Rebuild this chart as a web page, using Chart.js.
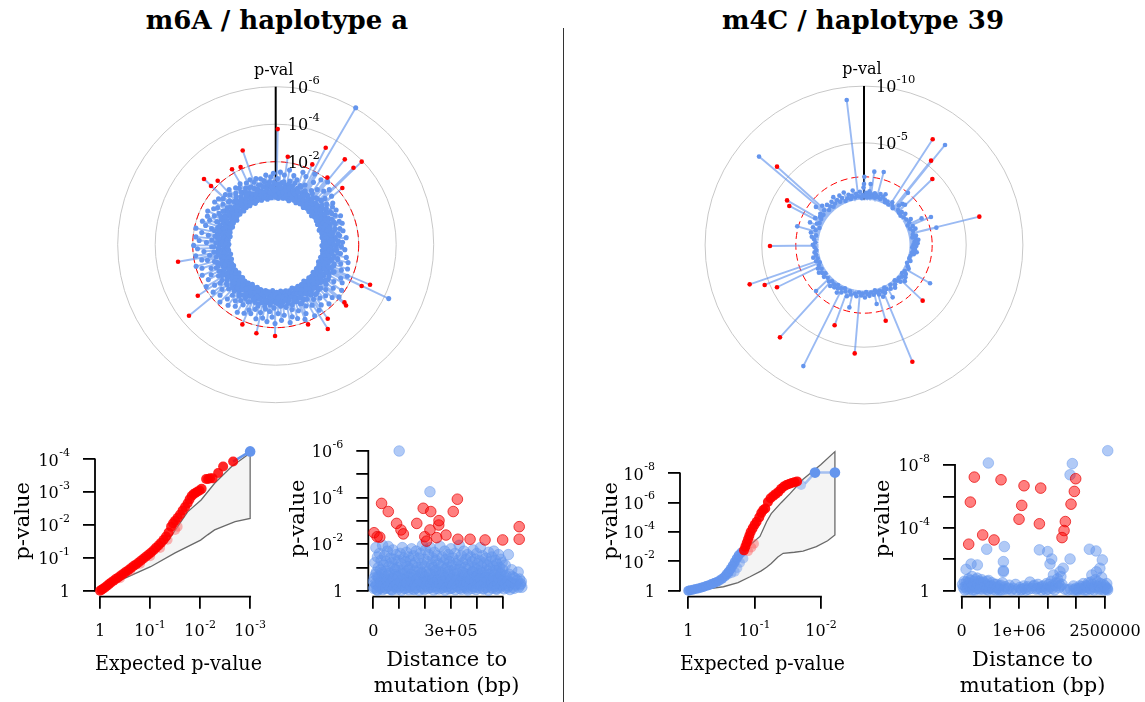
<!DOCTYPE html>
<html><head><meta charset="utf-8">
<script src="https://cdn.jsdelivr.net/npm/chart.js@4.4.0/dist/chart.umd.min.js"></script>
<style>
html,body{margin:0;padding:0;background:#fff;}
body{width:1145px;height:702px;position:relative;overflow:hidden;font-family:"DejaVu Serif",serif;}
.title{position:absolute;top:5px;line-height:30px;font-weight:bold;font-size:26px;text-align:center;width:400px;color:#000;}
canvas{position:absolute;}
#divider{position:absolute;left:563px;top:28px;width:1px;height:674px;background:#333;}
</style></head><body>
<div class="title" style="left:77px">m6A / haplotype a</div>
<div class="title" style="left:663px">m4C / haplotype 39</div>
<div id="divider"></div>
<canvas id="polarL" width="372" height="385" style="left:90px;top:50px"></canvas>
<canvas id="polarR" width="372" height="385" style="left:678px;top:50px"></canvas>
<canvas id="qqL" width="285" height="272" style="left:0px;top:430px"></canvas>
<canvas id="distL" width="278" height="272" style="left:285px;top:430px"></canvas>
<canvas id="qqR" width="280" height="272" style="left:590px;top:430px"></canvas>
<canvas id="distR" width="275" height="272" style="left:870px;top:430px"></canvas>
<script>
// ================= DATA (p-values stored as -log10(p)) =================
// Left panel: m6A / haplotype a — polar plot [angle in degrees, -log10 p]
const leftPolarRed = [[1.0,3.74],[340.7,2.90],[7.8,2.31],[27.3,3.39],[24.5,2.28],[39.0,3.43],[46.0,3.95],[45.3,3.41],[37.6,2.09],[49.6,2.24],[329.9,2.22],[335.7,2.12],[312.5,2.76],[312.2,2.23],[317.8,2.18],[260.1,2.86],[236.8,2.54],[230.7,3.55],[202.7,2.18],[192.3,2.41],[180.4,2.44],[157.9,2.16],[148.3,2.86],[144.9,2.40],[130.0,2.36],[130.8,2.53],[115.7,2.66],[113.0,3.04]];
const leftPolarBlue = [[30.3,6.03],[115.5,4.25],
[0.4,0.35],[1.6,1.10],[2.9,0.62],[3.7,1.45],[4.8,0.28],[5.9,0.91],[7.1,1.32],[8.0,0.47],[9.2,0.78],[10.5,1.62],[11.3,0.22],[12.6,1.05],[13.8,0.56],[14.7,1.38],[16.0,0.84],[17.2,0.31],[18.1,1.21],[19.5,0.67],[20.6,1.70],[21.4,0.43],[22.8,0.99],[23.9,1.55],[25.1,0.36],[26.2,1.12],[27.8,0.74],[28.9,1.88],[29.7,0.52],[31.2,1.46],[32.4,0.27],[33.5,1.03],[34.9,1.79],[35.8,0.61],[37.0,1.26],[38.3,0.40],[39.6,1.92],[40.7,0.88],[41.9,1.41],[43.1,0.33],[44.2,1.67],[45.6,0.95],[46.8,1.18],[47.7,0.49],[49.0,1.52],[50.3,0.72],[51.5,1.05],[52.6,0.30],[53.9,1.34],[55.2,0.81],[56.4,1.21],[57.3,0.44],[58.8,0.98],[60.1,1.29],[61.2,0.58],[62.5,0.25],[63.7,1.12],[64.9,0.69],[66.0,1.36],[67.4,0.38],[68.5,0.90],[69.8,1.18],[71.0,0.52],[72.1,1.30],[73.5,0.29],[74.6,0.85],[75.8,1.10],[77.0,0.46],[78.3,1.24],[79.4,0.62],[80.6,0.34],[81.9,1.02],[83.2,0.77],[84.3,1.35],[85.6,0.41],[86.8,0.93],[88.0,1.14],[89.1,0.26],[90.5,0.70],[91.7,1.08],[92.8,0.48],[94.1,1.27],[95.3,0.83],[96.6,0.31],[97.7,1.06],[99.0,0.59],[100.2,1.40],[101.3,0.37],[102.7,0.96],[103.9,1.55],[105.0,0.66],[106.4,1.19],[107.6,0.28],[108.7,1.62],[110.0,0.87],[111.2,1.33],[112.3,0.50],[113.8,1.75],[114.9,1.01],[116.2,0.42],[117.3,1.48],[118.5,0.79],[119.8,1.66],[121.0,0.35],[122.3,1.24],[123.4,0.93],[124.7,1.85],[125.9,0.55],[127.1,1.42],[128.2,0.74],[129.5,1.95],[130.6,0.30],[131.9,1.16],[133.1,1.70],[134.3,0.63],[135.6,1.38],[136.7,0.89],[138.0,1.82],[139.2,0.45],[140.4,1.27],[141.5,0.97],[142.9,1.60],[144.0,0.38],[145.3,1.12],[146.5,1.77],[147.6,0.71],[148.9,1.34],[150.1,0.54],[151.3,1.90],[152.6,0.86],[153.7,1.22],[155.0,0.33],[156.2,1.58],[157.3,0.99],[158.6,1.85],[159.8,0.47],[161.0,1.30],[162.2,0.77],[163.5,1.68],[164.6,0.29],[165.9,1.14],[167.1,1.52],[168.2,0.64],[169.5,1.80],[170.7,0.92],[171.9,0.40],[173.1,1.36],[174.3,0.81],[175.6,1.62],[176.8,0.53],[178.0,1.25],[179.2,0.36],[180.5,1.78],[181.6,0.95],[182.9,1.44],[184.1,0.58],[185.2,1.15],[186.5,1.70],[187.7,0.32],[189.0,1.05],[190.1,1.55],[191.4,0.69],[192.6,1.28],[193.8,0.44],[195.0,1.66],[196.3,0.87],[197.5,1.19],[198.6,0.27],[199.9,1.48],[201.1,0.75],[202.3,1.34],[203.6,0.51],[204.8,1.60],[205.9,0.96],[207.2,0.39],[208.4,1.22],[209.6,1.72],[210.9,0.62],[212.0,1.09],[213.3,1.50],[214.5,0.34],[215.7,1.26],[216.9,0.83],[218.2,1.68],[219.4,0.46],[220.6,1.12],[221.7,1.45],[223.0,0.70],[224.2,1.84],[225.5,0.31],[226.7,1.02],[227.8,1.58],[229.1,0.57],[230.3,1.30],[231.6,0.92],[232.8,1.76],[234.0,0.41],[235.2,1.18],[236.5,1.48],[237.6,0.66],[238.9,1.90],[240.1,0.29],[241.3,1.05],[242.6,1.62],[243.7,0.79],[245.0,1.37],[246.2,0.50],[247.4,1.82],[248.7,0.97],[249.9,1.24],[251.0,0.35],[252.3,1.70],[253.5,0.86],[254.8,1.97],[256.0,0.53],[257.1,1.31],[258.4,1.60],[259.6,0.43],[260.9,1.14],[262.1,1.88],[263.3,0.68],[264.6,1.42],[265.7,0.26],[267.0,1.75],[268.2,0.99],[269.5,1.95],[270.7,0.48],[271.8,1.27],[273.1,1.66],[274.3,0.61],[275.6,1.85],[276.7,0.37],[278.0,1.20],[279.3,1.57],[280.4,0.74],[281.7,1.92],[282.9,0.44],[284.1,1.10],[285.4,1.45],[286.6,0.56],[287.8,1.68],[289.0,0.30],[290.3,1.33],[291.5,0.89],[292.7,1.52],[294.0,0.41],[295.2,1.19],[296.4,1.62],[297.7,0.65],[298.9,1.03],[300.1,1.40],[301.3,0.33],[302.6,1.25],[303.8,0.80],[305.0,1.55],[306.3,0.47],[307.5,1.12],[308.7,1.48],[310.0,0.58],[311.2,1.30],[312.4,0.27],[313.7,0.97],[314.9,1.36],[316.1,0.52],[317.4,1.18],[318.6,0.75],[319.8,1.42],[321.0,0.34],[322.3,1.06],[323.5,0.64],[324.8,1.28],[326.0,0.45],[327.2,1.15],[328.4,0.82],[329.7,1.34],[330.9,0.29],[332.1,1.00],[333.4,0.57],[334.6,1.22],[335.8,0.40],[337.1,0.93],[338.3,1.30],[339.6,0.50],[340.8,1.10],[342.0,0.68],[343.3,1.25],[344.5,0.32],[345.7,0.87],[347.0,1.18],[348.2,0.46],[349.5,1.05],[350.7,0.71],[351.9,1.32],[353.2,0.38],[354.4,0.96],[355.7,1.20],[356.9,0.55],[358.1,1.38],[359.3,0.80]];
const leftPolarBlueLow = [[0.6,0.12],[1.9,0.45],[3.1,0.05],[4.2,0.33],[5.4,0.60],[6.6,0.18],[7.7,0.40],[8.9,0.08],[10.1,0.52],[11.9,0.25],[13.1,0.68],[14.2,0.10],[15.5,0.38],[16.6,0.02],[17.8,0.55],[19.0,0.22],[20.1,0.47],[21.9,0.14],[23.2,0.63],[24.3,0.30],[25.6,0.06],[26.9,0.42],[28.1,0.20],[29.3,0.58],[30.6,0.11],[31.8,0.36],[33.0,0.70],[34.1,0.16],[35.3,0.48],[36.6,0.04],[37.7,0.29],[39.0,0.61],[40.2,0.13],[41.3,0.44],[42.6,0.24],[43.8,0.66],[45.0,0.07],[46.2,0.35],[47.3,0.53],[48.5,0.19],[49.8,0.41],[51.0,0.03],[52.1,0.57],[53.3,0.27],[54.6,0.12],[55.8,0.49],[56.9,0.21],[58.1,0.64],[59.4,0.09],[60.6,0.37],[61.8,0.17],[63.0,0.51],[64.2,0.05],[65.5,0.32],[66.7,0.59],[67.9,0.15],[69.1,0.43],[70.3,0.26],[71.5,0.02],[72.8,0.55],[74.0,0.20],[75.2,0.38],[76.4,0.10],[77.6,0.62],[78.9,0.28],[80.1,0.45],[81.3,0.07],[82.5,0.34],[83.8,0.18],[85.0,0.56],[86.2,0.12],[87.4,0.40],[88.6,0.23],[89.8,0.67],[91.1,0.04],[92.3,0.31],[93.5,0.50],[94.7,0.16],[95.9,0.42],[97.2,0.08],[98.4,0.60],[99.6,0.25],[100.8,0.13],[102.0,0.47],[103.3,0.21],[104.5,0.69],[105.7,0.06],[106.9,0.36],[108.1,0.53],[109.4,0.14],[110.6,0.39],[111.8,0.03],[113.0,0.58],[114.2,0.27],[115.1,0.11],[116.7,0.46],[117.9,0.19],[119.1,0.63],[120.3,0.09],[121.6,0.33],[122.8,0.52],[124.0,0.17],[125.2,0.44],[126.4,0.05],[127.7,0.61],[128.9,0.24],[130.1,0.40],[131.3,0.12],[132.5,0.57],[133.8,0.30],[135.0,0.07],[136.2,0.49],[137.4,0.20],[138.6,0.66],[139.8,0.15],[141.1,0.37],[142.3,0.02],[143.5,0.54],[144.7,0.26],[145.9,0.43],[147.2,0.10],[148.4,0.60],[149.6,0.22],[150.8,0.35],[152.0,0.08],[153.3,0.50],[154.5,0.18],[155.7,0.68],[156.9,0.13],[158.1,0.41],[159.4,0.04],[160.6,0.56],[161.8,0.28],[163.0,0.16],[164.2,0.47],[165.5,0.21],[166.7,0.62],[167.9,0.09],[169.1,0.34],[170.3,0.52],[171.6,0.14],[172.8,0.39],[174.0,0.06],[175.2,0.59],[176.4,0.25],[177.7,0.44],[178.9,0.11],[180.1,0.65],[181.3,0.19],[182.5,0.36],[183.8,0.03],[185.0,0.53],[186.2,0.23],[187.4,0.48],[188.6,0.12],[189.9,0.61],[191.1,0.27],[192.3,0.07],[193.5,0.42],[194.7,0.17],[196.0,0.57],[197.2,0.30],[198.4,0.10],[199.6,0.50],[200.8,0.20],[202.1,0.67],[203.3,0.05],[204.5,0.38],[205.7,0.55],[206.9,0.14],[208.2,0.45],[209.4,0.24],[210.6,0.02],[211.8,0.60],[213.0,0.29],[214.3,0.41],[215.5,0.09],[216.7,0.54],[217.9,0.18],[219.1,0.35],[220.4,0.12],[221.6,0.64],[222.8,0.22],[224.0,0.47],[225.2,0.06],[226.5,0.32],[227.7,0.58],[228.9,0.15],[230.1,0.43],[231.3,0.26],[232.6,0.04],[233.8,0.51],[235.0,0.19],[236.2,0.66],[237.4,0.11],[238.7,0.37],[239.9,0.55],[241.1,0.21],[242.3,0.40],[243.5,0.08],[244.8,0.62],[246.0,0.28],[247.2,0.13],[248.4,0.48],[249.6,0.23],[250.9,0.69],[252.1,0.05],[253.3,0.34],[254.5,0.52],[255.7,0.16],[257.0,0.44],[258.2,0.03],[259.4,0.59],[260.6,0.25],[261.8,0.38],[263.1,0.10],[264.3,0.56],[265.5,0.20],[266.7,0.63],[267.9,0.14],[269.2,0.36],[270.4,0.07],[271.6,0.50],[272.8,0.27],[274.0,0.45],[275.3,0.12],[276.5,0.61],[277.7,0.22],[278.9,0.39],[280.1,0.04],[281.4,0.54],[282.6,0.18],[283.8,0.67],[285.0,0.09],[286.2,0.33],[287.5,0.49],[288.7,0.15],[289.9,0.42],[291.1,0.24],[292.3,0.06],[293.6,0.58],[294.8,0.29],[296.0,0.46],[297.2,0.11],[298.4,0.64],[299.7,0.20],[300.9,0.37],[302.1,0.02],[303.3,0.53],[304.5,0.26],[305.8,0.13],[307.0,0.47],[308.2,0.21],[309.4,0.60],[310.6,0.08],[311.9,0.35],[313.1,0.55],[314.3,0.17],[315.5,0.41],[316.7,0.05],[318.0,0.62],[319.2,0.28],[320.4,0.44],[321.6,0.10],[322.8,0.57],[324.1,0.19],[325.3,0.38],[326.5,0.07],[327.7,0.52],[328.9,0.23],[330.2,0.65],[331.4,0.14],[332.6,0.40],[333.8,0.03],[335.0,0.56],[336.3,0.27],[337.5,0.12],[338.7,0.48],[339.9,0.22],[341.1,0.61],[342.4,0.06],[343.6,0.34],[344.8,0.51],[346.0,0.16],[347.2,0.43],[348.5,0.25],[349.7,0.04],[350.9,0.58],[352.1,0.20],[353.4,0.39],[354.6,0.09],[355.8,0.63],[357.0,0.29],[358.2,0.45],[359.5,0.14]];
const leftPolarBlueMid = [[0.9,0.55],[2.3,0.82],[3.4,0.25],[4.5,0.70],[6.0,0.38],[7.4,0.95],[8.5,0.30],[9.8,0.64],[11.0,0.18],[12.2,0.88],[13.5,0.42],[15.0,0.75],[16.3,0.33],[17.5,1.02],[18.6,0.50],[20.0,0.27],[21.1,0.80],[22.5,0.46],[23.6,0.92],[24.8,0.21],[26.5,0.66],[27.4,0.36],[28.6,0.85],[30.0,0.48],[31.5,0.72],[32.8,0.19],[34.5,0.60],[35.6,0.93],[36.9,0.34],[38.6,0.78],[39.9,0.52],[41.0,0.26],[42.3,0.89],[43.5,0.57],[44.8,0.40],[46.0,0.97],[47.0,0.63],[48.2,0.28],[49.4,0.83],[50.7,0.45],[51.8,0.69],[53.0,0.17],[54.3,0.90],[55.5,0.54],[56.7,0.31],[58.4,0.79],[59.7,0.47],[60.9,0.99],[62.1,0.36],[63.4,0.73],[64.6,0.22],[65.8,0.87],[67.1,0.51],[68.2,0.29],[69.5,0.68],[70.7,0.94],[71.9,0.39],[73.2,0.61],[74.3,0.20],[75.6,0.84],[76.8,0.49],[78.0,0.71],[79.2,0.32],[80.4,0.96],[81.6,0.55],[82.9,0.24],[84.0,0.77],[85.3,0.43],[86.5,0.65],[87.8,0.18],[89.3,0.90],[90.2,0.52],[91.4,0.35],[92.6,0.81],[93.9,0.47],[95.0,0.70],[96.3,0.23],[97.5,0.92],[98.7,0.56],[99.9,0.37],[101.1,0.74],[102.4,0.28],[103.6,0.98],[104.8,0.45],[106.0,0.63],[107.3,0.19],[108.4,0.86],[109.7,0.53],[110.9,0.30],[112.1,0.79],[113.4,0.41],[114.6,0.67],[115.7,0.95],[117.0,0.34],[118.2,0.72],[119.4,0.25],[120.7,0.88],[121.9,0.50],[123.1,0.62],[124.4,0.21],[125.6,0.83],[126.8,0.46],[128.0,0.99],[129.2,0.33],[130.4,0.69],[131.7,0.57],[132.9,0.27],[134.0,0.91],[135.3,0.44],[136.5,0.76],[137.8,0.31],[139.0,0.60],[140.1,0.97],[141.3,0.39],[142.6,0.71],[143.8,0.20],[145.0,0.85],[146.2,0.48],[147.5,0.66],[148.7,0.26],[150.0,0.93],[151.0,0.55],[152.3,0.36],[153.5,0.78],[154.8,0.43],[156.0,1.00],[157.1,0.29],[158.4,0.64],[159.6,0.82],[160.9,0.40],[162.0,0.70],[163.3,0.22],[164.5,0.89],[165.7,0.51],[167.0,0.35],[168.0,0.77],[169.4,0.58],[170.5,0.96],[171.7,0.30],[173.0,0.68],[174.1,0.45],[175.4,0.87],[176.6,0.24],[177.9,0.73],[179.0,0.52],[180.3,0.38],[181.5,0.94],[182.7,0.61],[184.0,0.27],[185.1,0.80],[186.4,0.47],[187.6,0.69],[188.8,0.19],[190.0,0.90],[191.2,0.54],[192.5,0.33],[193.7,0.75],[194.9,0.42],[196.1,0.98],[197.3,0.28],[198.6,0.63],[199.8,0.84],[201.0,0.37],[202.2,0.71],[203.5,0.23],[204.6,0.92],[205.8,0.49],[207.1,0.66],[208.3,0.31],[209.5,0.86],[210.8,0.53],[212.0,0.40],[213.2,0.78],[214.4,0.20],[215.6,0.95],[216.9,0.58],[218.1,0.34],[219.2,0.72],[220.5,0.46],[221.7,0.89],[223.0,0.26],[224.1,0.65],[225.4,0.82],[226.6,0.41],[227.9,0.70],[229.0,0.18],[230.2,0.93],[231.5,0.56],[232.7,0.36],[233.9,0.79],[235.1,0.48],[236.4,1.01],[237.5,0.30],[238.8,0.67],[240.0,0.87],[241.2,0.39],[242.4,0.74],[243.7,0.24],[244.9,0.91],[246.1,0.52],[247.3,0.60],[248.6,0.29],[249.8,0.85],[251.0,0.45],[252.2,0.76],[253.5,0.21],[254.6,0.96],[255.9,0.55],[257.1,0.35],[258.3,0.81],[259.5,0.42],[260.8,0.69],[262.0,0.27],[263.2,0.90],[264.4,0.50],[265.6,0.63],[266.9,0.32],[268.1,0.88],[269.3,0.57],[270.5,0.38],[271.8,0.77],[273.0,0.44],[274.2,0.99],[275.4,0.25],[276.6,0.70],[277.9,0.84],[279.1,0.36],[280.3,0.66],[281.5,0.20],[282.8,0.92],[284.0,0.53],[285.2,0.41],[286.4,0.80],[287.6,0.47],[288.9,0.72],[290.1,0.28],[291.3,0.95],[292.5,0.58],[293.8,0.33],[295.0,0.76],[296.2,0.49],[297.4,0.87],[298.6,0.22],[299.9,0.68],[301.1,0.54],[302.3,0.90],[303.5,0.37],[304.8,0.64],[306.0,0.19],[307.2,0.83],[308.4,0.45],[309.6,0.73],[310.9,0.30],[312.1,0.97],[313.3,0.51],[314.5,0.39],[315.8,0.78],[317.0,0.43],[318.2,0.66],[319.4,0.24],[320.6,0.89],[321.9,0.56],[323.1,0.34],[324.3,0.74],[325.5,0.48],[326.8,0.93],[328.0,0.27],[329.2,0.62],[330.4,0.85],[331.6,0.40],[332.9,0.70],[334.1,0.21],[335.3,0.91],[336.5,0.52],[337.8,0.36],[339.0,0.79],[340.2,0.46],[341.4,0.68],[342.6,0.25],[343.9,0.88],[345.1,0.55],[346.3,0.32],[347.5,0.75],[348.8,0.42],[350.0,0.96],[351.2,0.29],[352.4,0.65],[353.6,0.83],[354.9,0.38],[356.1,0.71],[357.3,0.23],[358.5,0.90],[359.8,0.50]];

// Left panel QQ: [expected -log10 p, observed -log10 p]
const leftQQRed = [[0,0],[0.03,0.03],[0.06,0.06],[0.1,0.1],[0.14,0.15],[0.18,0.2],[0.22,0.25],[0.27,0.3],[0.32,0.36],[0.37,0.41],[0.42,0.47],[0.47,0.52],[0.52,0.58],[0.57,0.63],[0.62,0.69],[0.67,0.75],[0.72,0.8],[0.77,0.86],[0.82,0.92],[0.87,0.98],[0.92,1.04],[0.97,1.1],[1.02,1.16],[1.07,1.23],[1.12,1.31],[1.17,1.38],[1.22,1.46],[1.27,1.55],[1.32,1.65],[1.37,1.77],[1.42,1.95],[1.46,2.05],[1.5,2.13],[1.55,2.22],[1.6,2.32],[1.65,2.44],[1.7,2.55],[1.75,2.66],[1.79,2.78],[1.83,2.88],[1.87,2.94],[1.91,2.98],[1.95,3.02],[1.99,3.05],[2.03,3.1],[2.12,3.4],[2.16,3.4],[2.2,3.42],[2.25,3.42],[2.36,3.58],[2.46,3.78],[2.66,3.93]];
const leftQQShadow = [[0.4,0.38],[0.6,0.6],[0.8,0.82],[1.0,1.05],[1.2,1.3],[1.35,1.55],[1.5,1.85],[1.55,1.95]];
const leftQQBlue = [[3.0,4.24]];
const leftBandUpper = [[0,0],[0.5,0.5],[1.0,1.02],[1.35,1.5],[1.75,2.4],[2.02,2.76],[2.29,3.27],[2.63,3.78],[3.0,4.19]];
const leftBandLower = [[0,0],[0.5,0.38],[1.01,0.73],[1.5,1.15],[2.01,1.54],[2.15,1.7],[2.29,1.85],[2.5,1.98],[2.7,2.1],[3.0,2.2]];

// Left panel distance plot: [distance in kb, -log10 p]
const leftDistRed = [[3,2.49],[15,2.32],[25,2.3],[32,3.75],[58,3.40],[90,2.89],[107,2.61],[116,2.44],[168,2.89],[193,3.54],[222,3.40],[199,2.32],[206,2.13],[219,2.61],[245,2.28],[253,2.82],[254,3.01],[281,2.39],[309,3.40],[325,3.93],[327,2.21],[374,2.21],[432,2.18],[500,2.18],[564,2.75],[564,2.21]];
const leftDistBlue = [[100,6.0],[219,4.25],
[2,0.1],[4,0.55],[6,1.2],[8,0.3],[10,1.85],[12,0.8],[14,0.05],[16,1.45],[18,0.6],[20,1.0],[22,0.2],[24,1.6],[26,0.4],[28,0.9],[30,1.3],[32,0.15],[34,0.7],[36,1.95],[38,0.35],[40,1.1],[42,0.5],[44,1.5],[46,0.1],[48,0.85],[50,1.25],[52,0.3],[54,1.7],[56,0.65],[58,1.9],[60,0.2],[62,1.05],[64,0.45],[66,1.4],[68,0.75],[70,0.05],[72,1.2],[74,0.55],[76,1.75],[78,0.25],[80,0.95],[82,1.35],[84,0.4],[86,0.7],[88,1.55],[90,0.15],[92,1.0],[94,0.6],[96,1.3],[98,0.3],[102,0.85],[104,1.6],[106,0.2],[108,1.15],[110,0.5],[112,1.85],[114,0.35],[116,0.9],[118,1.4],[120,0.1],[122,0.75],[124,1.25],[126,0.45],[128,1.65],[130,0.25],[132,1.05],[134,0.6],[136,1.45],[138,0.15],[140,0.95],[142,1.3],[144,0.4],[146,0.7],[148,1.8],[150,0.3],[152,1.1],[154,0.55],[156,1.5],[158,0.05],[160,0.85],[162,1.2],[164,0.45],[166,1.7],[170,0.25],[172,1.0],[174,0.65],[176,1.4],[178,0.2],[180,0.9],[182,1.6],[184,0.35],[186,1.15],[188,0.75],[190,1.95],[192,0.1],[194,0.6],[196,1.35],[198,0.4],[200,1.05],[202,1.75],[204,0.3],[208,0.8],[210,1.25],[212,0.5],[214,1.55],[216,0.15],[218,0.95],[220,1.85],[224,0.45],[226,1.1],[228,0.7],[230,1.4],[232,0.2],[234,1.0],[236,1.65],[238,0.55],[240,0.85],[242,1.3],[244,0.1],[246,1.5],[248,0.65],[250,0.35],[252,1.15],[256,0.8],[258,1.9],[260,0.25],[262,1.05],[264,0.5],[266,1.45],[268,0.75],[270,0.15],[272,1.2],[274,0.6],[276,1.7],[278,0.3],[280,0.95],[282,1.35],[284,0.45],[286,1.0],[288,0.2],[290,1.55],[292,0.7],[294,1.25],[296,0.4],[298,0.85],[300,1.8],[302,0.1],[304,1.1],[306,0.55],[308,1.4],[312,0.3],[314,0.9],[316,1.6],[318,0.45],[320,1.15],[322,0.2],[324,0.75],[328,1.3],[330,0.6],[332,1.95],[334,0.35],[336,1.05],[338,0.5],[340,1.5],[342,0.15],[344,0.8],[346,1.2],[348,0.4],[350,1.7],[352,0.65],[354,0.25],[356,1.0],[358,1.35],[360,0.5],[362,0.1],[364,1.55],[366,0.7],[368,1.1],[370,0.3],[372,0.95],[376,1.45],[378,0.55],[380,0.2],[382,1.25],[384,0.8],[386,1.75],[388,0.4],[390,1.0],[392,0.6],[394,1.35],[396,0.15],[398,0.9],[400,1.6],[402,0.45],[404,1.15],[406,0.7],[408,0.25],[410,1.3],[412,0.85],[414,1.85],[416,0.5],[418,1.05],[420,0.35],[422,1.5],[424,0.65],[426,0.1],[428,1.2],[430,0.75],[434,0.4],[436,1.4],[438,0.9],[440,0.2],[442,1.1],[444,0.55],[446,1.65],[448,0.3],[450,0.95],[452,1.25],[454,0.6],[456,0.15],[458,1.45],[460,0.8],[462,0.4],[464,1.05],[466,1.7],[468,0.25],[470,0.7],[472,1.3],[474,0.5],[476,0.1],[478,1.15],[480,0.85],[482,0.35],[484,1.55],[486,0.6],[488,1.0],[490,0.2],[492,1.35],[494,0.75],[496,0.45],[498,1.2],[500,0.9],[503,0.3],[506,0.6],[510,1.1],[514,0.4],[518,0.2],[522,1.55],[526,0.7],[530,0.35],[535,0.9],[540,0.15],[546,0.55],[552,0.3],[560,0.8],[565,0.5],[568,0.25],[572,0.4],[574,0.15]];
const leftDistBlueLow = [[1,0.4],[5,0.15],[9,0.7],[13,0.25],[17,0.02],[21,0.55],[25,0.1],[29,0.35],[33,0.8],[37,0.05],[41,0.3],[45,0.6],[49,0.12],[53,0.45],[57,0.2],[61,0.75],[65,0.08],[69,0.38],[73,0.03],[77,0.5],[81,0.18],[85,0.9],[89,0.27],[93,0.06],[97,0.62],[101,0.15],[105,0.4],[109,0.02],[113,0.7],[117,0.22],[121,0.48],[125,0.1],[129,0.33],[133,0.85],[137,0.04],[141,0.58],[145,0.2],[149,0.37],[153,0.07],[157,0.65],[161,0.25],[165,0.12],[169,0.52],[173,0.3],[177,0.02],[181,0.44],[185,0.78],[189,0.16],[193,0.35],[197,0.05],[201,0.6],[205,0.22],[209,0.42],[213,0.09],[217,0.72],[221,0.28],[225,0.14],[229,0.5],[233,0.03],[237,0.36],[241,0.88],[245,0.19],[249,0.46],[253,0.07],[257,0.31],[261,0.66],[265,0.11],[269,0.4],[273,0.24],[277,0.02],[281,0.57],[285,0.17],[289,0.8],[293,0.08],[297,0.33],[301,0.5],[305,0.13],[309,0.27],[313,0.69],[317,0.04],[321,0.43],[325,0.2],[329,0.92],[333,0.1],[337,0.38],[341,0.06],[345,0.55],[349,0.23],[353,0.74],[357,0.15],[361,0.35],[365,0.03],[369,0.6],[373,0.26],[377,0.48],[381,0.09],[385,0.82],[389,0.18],[393,0.4],[397,0.05],[401,0.64],[405,0.3],[409,0.12],[413,0.52],[417,0.21],[421,0.77],[425,0.07],[429,0.36],[433,0.58],[437,0.14],[441,0.45],[445,0.02],[449,0.68],[453,0.25],[457,0.39],[461,0.1],[465,0.55],[469,0.19],[473,0.86],[477,0.06],[481,0.32],[485,0.5],[489,0.13],[493,0.7],[497,0.24],[501,0.42],[505,0.08],[509,0.3],[513,0.65],[517,0.12],[520,0.45],[524,0.2],[528,0.05],[533,0.35],[538,0.6],[544,0.1],[550,0.25],[556,0.45],[562,0.15],[570,0.3]];

// Right panel: m4C / haplotype 39 — polar plot [angle in degrees, -log10 p]
const rightPolarRed = [[33.0,7.11],[38.5,5.49],[46.0,4.37],[76.2,6.46],[133.5,3.12],[164.0,2.93],[157.5,7.13],[184.9,5.58],[200.1,3.53],[222.3,7.0],[251.0,6.65],[248.1,5.43],[244.1,4.52],[269.4,4.28],[300.1,3.83],[297.6,3.42],[312.0,6.31]];
const rightPolarBlue = [[353.2,8.87],[310.1,8.09],[39.0,7.34],[206.6,7.93],
[340.5,0.35],[342.8,0.62],[344.1,0.20],[346.0,0.45],[348.3,0.90],[349.5,0.25],[351.2,0.55],[354.0,0.30],[355.6,0.70],[357.1,0.15],[358.4,0.40],[359.5,1.05],[0.0,1.37],[0.3,2.0],[1.2,0.28],[2.5,0.60],[3.4,0.18],[4.6,0.42],[5.8,0.75],[6.2,1.40],[6.9,0.22],[8.0,2.52],[8.5,0.50],[9.7,0.31],[11.9,0.65],[13.0,0.26],[14.2,0.48],[15.1,2.66],[16.4,0.38],[18.0,0.72],[19.5,0.30],[21.3,0.55],[23.0,0.85],[24.6,0.40],[26.2,0.20],[28.5,0.35],[31.0,0.15],[33.5,0.50],[36.2,0.25],[38.0,0.10],[40.1,2.0],[41.5,0.63],[43.0,0.95],[44.2,0.30],[45.5,1.05],[47.3,0.18],[49.0,0.40],[51.2,0.12],[53.0,0.55],[55.4,0.25],[58.9,0.35],[61.0,0.70],[63.5,0.45],[65.2,1.58],[66.0,0.20],[67.3,2.39],[68.8,0.60],[70.5,0.30],[72.4,0.75],[74.0,0.50],[76.5,2.55],[77.8,0.40],[79.6,0.65],[81.2,0.30],[83.0,0.58],[84.5,0.80],[86.3,0.45],[88.0,0.72],[89.6,0.35],[91.0,0.60],[92.8,0.25],[94.5,0.50],[96.1,0.38],[97.9,0.68],[99.1,0.27],[100.6,0.45],[103.0,0.20],[106.2,0.15],[109.0,0.32],[112.5,0.10],[115.8,0.28],[118.0,0.45],[120.1,2.72],[122.5,0.25],[124.8,0.48],[126.3,0.15],[128.0,0.62],[129.7,0.35],[131.5,0.80],[133.0,0.22],[135.2,0.55],[137.1,0.30],[139.0,0.12],[141.6,0.40],[144.0,0.65],[146.3,0.20],[148.5,0.50],[151.3,1.25],[152.9,0.35],[154.6,0.15],[156.2,0.60],[158.0,0.40],[159.7,0.85],[161.4,0.25],[163.0,0.55],[165.2,0.30],[166.5,0.10],[167.9,1.31],[169.0,0.45],[171.5,0.22],[173.8,0.50],[175.6,0.35],[177.4,0.15],[179.0,0.62],[181.5,0.28],[183.2,0.45],[186.0,0.20],[188.4,0.55],[190.5,0.35],[193.2,1.64],[195.0,0.50],[196.8,0.25],[198.5,0.75],[201.9,0.40],[203.8,0.15],[205.5,0.62],[208.0,0.30],[209.7,0.82],[211.4,0.45],[213.0,0.20],[215.1,0.55],[217.3,0.35],[219.5,0.68],[221.4,0.25],[223.8,0.45],[226.2,1.85],[228.0,0.30],[231.5,0.50],[233.8,0.20],[236.1,0.42],[238.5,0.65],[240.7,0.28],[243.0,0.55],[245.9,0.35],[248.6,0.18],[251.2,0.45],[253.7,0.25],[256.0,0.60],[258.4,0.30],[261.5,0.40],[264.0,0.22],[267.3,0.35],[270.2,0.50],[273.1,0.28],[276.5,0.42],[279.0,0.65],[281.3,0.30],[283.2,0.80],[285.6,2.10],[287.0,0.45],[289.2,0.75],[291.0,0.20],[292.7,1.15],[294.5,0.55],[296.3,0.35],[298.8,0.90],[301.2,0.40],[302.7,0.60],[304.1,0.50],[305.5,0.72],[306.8,0.45],[308.4,1.40],[311.0,0.65],[313.2,1.05],[315.0,0.35],[317.3,0.80],[319.0,0.52],[321.5,0.30],[323.0,0.75],[325.1,0.45],[327.3,1.00],[329.0,0.60],[331.2,0.35],[333.5,0.85],[335.0,0.55],[337.2,0.20],[338.9,0.95]];

// Right panel QQ
const rightQQBlue = [[0,0],[0.03,0.03],[0.07,0.07],[0.11,0.11],[0.15,0.15],[0.19,0.2],[0.23,0.26],[0.27,0.32],[0.31,0.38],[0.35,0.45],[0.39,0.52],[0.43,0.6],[0.47,0.7],[0.51,0.82],[0.55,0.97],[0.58,1.13],[0.61,1.3],[0.64,1.5],[0.67,1.72],[0.7,1.95],[0.73,2.2],[0.76,2.42],[0.8,2.6]];
const rightQQRed = [[0.84,2.75],[0.86,3.0],[0.88,3.25],[0.9,3.5],[0.92,3.75],[0.94,4.0],[0.97,4.25],[1.0,4.5],[1.03,4.7],[1.07,5.0],[1.1,5.3],[1.13,5.5],[1.16,5.6],[1.2,6.05],[1.24,6.3],[1.28,6.45],[1.32,6.6],[1.36,6.75],[1.4,6.95],[1.44,7.1],[1.48,7.2],[1.52,7.28],[1.56,7.35],[1.6,7.4],[1.64,7.45]];
const rightQQTop = [[1.76,7.3],[1.91,8.05],[2.21,8.05]];
const rightQQShadowBlue = [[0.6,1.1],[0.65,1.2],[0.7,1.3],[0.74,1.55],[0.78,1.9],[0.83,2.2],[1.7,7.2]];
const rightQQShadowRed = [[0.9,2.7],[0.95,2.95],[0.99,3.2]];
const rightBandUpper = [[0,0],[0.3,0.35],[0.5,0.7],[0.65,1.3],[0.78,2.3],[0.9,3.0],[1.08,3.7],[1.18,4.7],[1.25,5.25],[1.4,6.0],[1.53,6.6],[1.73,7.6],[2.0,8.6],[2.21,9.48]];
const rightBandLower = [[0,0],[0.3,0.12],[0.53,0.27],[0.75,0.55],[0.93,0.95],[1.1,1.35],[1.18,1.6],[1.25,1.86],[1.35,2.3],[1.43,2.55],[1.6,2.62],[1.73,2.7],[1.93,3.0],[2.1,3.4],[2.21,3.8]];

// Right panel distance plot: [distance in kb, -log10 p]
const rightDistRed = [[220,7.23],[686,7.06],[151,5.64],[1087,6.68],[1047,5.43],[1000,4.55],[1378,6.53],[1355,4.26],[1988,7.13],[1965,6.32],[1907,5.51],[1808,4.40],[1785,3.83],[1750,3.38],[366,3.55],[564,3.23],[122,2.96]];
const rightDistBlue = [[465,8.13],[1930,8.09],[1890,7.38],[2547,8.91],
[436,2.64],[744,2.81],[1355,2.6],[1500,2.49],[2227,2.64],[2343,2.53],[727,1.85],[727,1.28],[727,1.2],[1570,2.02],[1540,1.7],[1890,2.02],[2453,1.96],[2410,1.43],[76,1.36],[163,1.7],[273,1.64],[1715,1.21],[1770,1.43],[2350,1.2],[2270,1.0],[1600,1.0],
[30,0.2],[55,0.05],[80,0.55],[100,0.3],[120,0.75],[140,0.1],[160,0.45],[180,0.9],[200,0.25],[215,0.6],[230,0.05],[250,0.4],[270,0.8],[290,0.15],[310,0.5],[330,0.3],[350,0.7],[370,0.1],[395,0.45],[420,0.2],[440,0.6],[460,0.05],[480,0.35],[500,0.15],[530,0.5],[560,0.25],[590,0.05],[610,0.4],[640,0.15],[660,0.3],[690,0.05],[710,0.5],[760,0.25],[790,0.1],[830,0.35],[870,0.05],[900,0.15],[940,0.4],[960,0.05],[1010,0.2],[1050,0.1],[1080,0.3],[1120,0.05],[1150,0.25],[1190,0.55],[1230,0.15],[1270,0.35],[1300,0.1],[1330,0.4],[1360,0.2],[1390,0.05],[1420,0.3],[1450,0.15],[1480,0.45],[1510,0.1],[1540,0.25],[1560,0.6],[1590,0.35],[1620,0.05],[1650,0.5],[1670,0.75],[1700,0.2],[1730,0.9],[1750,0.4],[1800,0.1],[1850,0.05],[1900,0.1],[1960,0.05],[1990,0.15],[2030,0.05],[2060,0.3],[2090,0.1],[2120,0.45],[2150,0.2],[2180,0.05],[2200,0.35],[2230,0.15],[2260,0.55],[2290,0.25],[2310,0.05],[2330,0.7],[2360,0.3],[2390,0.1],[2420,0.45],[2440,0.85],[2460,0.2],[2480,0.05],[2500,0.3],[2520,0.1],[2540,0.15],
[15,0.4],[45,0.6],[65,0.25],[90,0.1],[110,0.5],[130,0.35],[150,0.65],[170,0.2],[190,0.05],[205,0.4],[240,0.7],[260,0.15],[280,0.45],[300,0.6],[320,0.1],[340,0.5],[360,0.25],[380,0.55],[405,0.3],[430,0.1],[450,0.35],[470,0.65],[490,0.2],[515,0.3],[545,0.1],[575,0.4],[620,0.2],[650,0.05],[680,0.35],[740,0.1],[820,0.15],[1030,0.05],[1100,0.15],[1170,0.1],[1250,0.3],[1320,0.15],[1400,0.25],[1470,0.05],[1520,0.4],[1580,0.15],[1640,0.3],[1690,0.5],[1720,0.3],[1950,0.3],[2000,0.05],[2050,0.15],[2100,0.25],[2140,0.05],[2170,0.3],[2210,0.5],[2250,0.1],[2280,0.4],[2320,0.2],[2370,0.55],[2400,0.25],[2430,0.1],[2470,0.4],[2510,0.2],[2530,0.45],[2545,0.05]];

// Tick values and labels ("^" marks a superscript exponent)
const leftPolarRings = [2,4,6];
const rightPolarRings = [5,10];
const polarThreshold = 2;
const leftQQXTicks = [0,1,2,3], leftQQXLabels = ['1','10^-1','10^-2','10^-3'];
const leftQQYTicks = [0,1,2,3,4], leftQQYLabels = ['1','10^-1','10^-2','10^-3','10^-4'];
const leftDistXTicks = [0,100,200,300,400,500], leftDistXLabels = ['0','','','3e+05','',''];
const leftDistYTicks = [0,1,2,3,4,5,6], leftDistYLabels = ['1','','10^-2','','10^-4','','10^-6'];
const rightQQXTicks = [0,1,2], rightQQXLabels = ['1','10^-1','10^-2'];
const rightQQYTicks = [0,2,4,6,8], rightQQYLabels = ['1','10^-2','10^-4','10^-6','10^-8'];
const rightDistXTicks = [0,500,1000,1500,2000,2500], rightDistXLabels = ['0','','1e+06','','','2500000'];
const rightDistYTicks = [0,2,4,6,8], rightDistYLabels = ['1','','10^-4','','10^-8'];

// ================= RENDERING =================
const FONT = '"DejaVu Serif", serif';
Chart.defaults.font.family = FONT;
Chart.defaults.color = '#000';
const BLUE = '#6495ED', RED = '#FF0000';
const xy = a => a.map(([x, y]) => ({x, y}));

function toXY(deg, nlp, base) {
  const a = deg * Math.PI / 180, r = base + nlp;
  return {x: r * Math.sin(a), y: r * Math.cos(a)};
}

function drawSupText(ctx, label, x, y, align, mainSize, supSize, raise) {
  const parts = label.split('^');
  ctx.font = mainSize + 'px ' + FONT;
  const wb = ctx.measureText(parts[0]).width;
  let we = 0;
  if (parts[1]) { ctx.font = supSize + 'px ' + FONT; we = ctx.measureText(parts[1]).width + 0.5; }
  const total = wb + we;
  const x0 = align === 'center' ? x - total / 2 : (align === 'right' ? x - total : x);
  ctx.textAlign = 'left'; ctx.textBaseline = 'alphabetic';
  ctx.font = mainSize + 'px ' + FONT;
  ctx.fillText(parts[0], x0, y);
  if (parts[1]) { ctx.font = supSize + 'px ' + FONT; ctx.fillText(parts[1], x0 + wb + 0.5, y - raise); }
}

const polarDecor = {
  id: 'polarDecor',
  beforeDatasetsDraw(chart, args, o) {
    const {ctx, scales: {x, y}} = chart;
    const cx = x.getPixelForValue(0), cy = y.getPixelForValue(0);
    const pr = v => x.getPixelForValue(v) - cx;
    ctx.save();
    ctx.strokeStyle = '#c8c8c8'; ctx.lineWidth = 1;
    o.rings.forEach(n => { ctx.beginPath(); ctx.arc(cx, cy, pr(o.base + n), 0, 2 * Math.PI); ctx.stroke(); });
    ctx.strokeStyle = '#ff0000'; ctx.lineWidth = 1; ctx.setLineDash([7, 4]);
    ctx.beginPath(); ctx.arc(cx, cy, pr(o.base + o.threshold), 0, 2 * Math.PI); ctx.stroke();
    ctx.setLineDash([]);
    const outer = o.rings[o.rings.length - 1];
    ctx.strokeStyle = '#000'; ctx.lineWidth = 2;
    ctx.beginPath(); ctx.moveTo(cx, cy - pr(o.base)); ctx.lineTo(cx, cy - pr(o.base + outer)); ctx.stroke();
    ctx.restore();
  },
  afterDatasetsDraw(chart, args, o) {
    const {ctx, scales: {x, y}} = chart;
    const cx = x.getPixelForValue(0), cy = y.getPixelForValue(0);
    const pr = v => x.getPixelForValue(v) - cx;
    const outer = o.rings[o.rings.length - 1];
    ctx.save();
    ctx.fillStyle = '#000';
    ctx.textBaseline = 'middle';
    ctx.textAlign = 'center';
    ctx.font = '16px ' + FONT;
    ctx.fillText('p-val', cx - 2, cy - pr(o.base + outer) - 16);
    o.rings.forEach(n => {
      const ty = cy - pr(o.base + n);
      drawSupText(ctx, '10^-' + n, cx + 12, ty + 6, 'left', 16, 11.5, 9);
    });
    ctx.restore();
  }
};

function polarChart(id, o) {
  const all = o.blue.concat(o.red);
  const stems = [];
  all.forEach(([d, n]) => { stems.push(toXY(d, 0, o.base), toXY(d, n, o.base), {x: NaN, y: NaN}); });
  return new Chart(document.getElementById(id), {
    type: 'scatter',
    data: {datasets: [
      {data: o.red.map(([d, n]) => toXY(d, n, o.base)), pointRadius: 2.3, pointBackgroundColor: RED, pointBorderWidth: 0, order: 1},
      {data: o.blue.map(([d, n]) => toXY(d, n, o.base)), pointRadius: o.dot, pointBackgroundColor: BLUE, pointBorderWidth: 0, order: 2},
      {data: stems, showLine: true, pointRadius: 0, borderColor: 'rgba(100,149,237,0.65)', borderWidth: 1.9, spanGaps: false, order: 3}
    ]},
    plugins: [polarDecor],
    options: {
      responsive: false, animation: false, events: [],
      layout: {autoPadding: false, padding: o.pad},
      plugins: {legend: {display: false}, tooltip: {enabled: false},
        polarDecor: {rings: o.rings, threshold: o.threshold, base: o.base}},
      scales: {
        x: {type: 'linear', min: -o.R, max: o.R, display: false},
        y: {type: 'linear', min: -o.R, max: o.R, display: false}
      }
    }
  });
}

// Left polar: 18.75 px per decade, inner radius 45.5 px
polarChart('polarL', {blue: leftPolarBlue.concat(leftPolarBlueMid, leftPolarBlueLow), red: leftPolarRed, rings: leftPolarRings, threshold: polarThreshold,
  R: 170 / 18.75, base: 45.5 / 18.75, dot: 2.55, pad: {left: 15.7, top: 24.7, right: 16.3, bottom: 20.3}});
// Right polar: 11.34 px per decade
polarChart('polarR', {blue: rightPolarBlue, red: rightPolarRed, rings: rightPolarRings, threshold: polarThreshold,
  R: 170 / 11.34, base: 45.5 / 11.34, dot: 2.3, pad: {left: 16, top: 25, right: 16, bottom: 20}});

const rangeFrame = {
  id: 'rangeFrame',
  beforeDatasetsDraw(chart) {
    const {ctx, chartArea: a, scales: {x, y}} = chart;
    const xt = x.ticks, yt = y.ticks;
    ctx.save(); ctx.strokeStyle = '#000'; ctx.lineWidth = 1.8;
    ctx.beginPath();
    ctx.moveTo(x.getPixelForValue(xt[0].value) - 0.9, a.bottom);
    ctx.lineTo(x.getPixelForValue(xt[xt.length - 1].value) + 0.9, a.bottom);
    ctx.moveTo(a.left, y.getPixelForValue(yt[0].value) + 0.9);
    ctx.lineTo(a.left, y.getPixelForValue(yt[yt.length - 1].value) - 0.9);
    ctx.stroke(); ctx.restore();
  }
};

const supTickLabels = {
  id: 'supTickLabels',
  afterDraw(chart, args, o) {
    const {ctx, chartArea: a, scales: {x, y}} = chart;
    ctx.save(); ctx.fillStyle = '#000';
    x.ticks.forEach((t, i) => { const l = o.xLabels[i]; if (l) drawSupText(ctx, l, x.getPixelForValue(t.value), a.bottom + 39.5, 'center', 16, 11, 8.5); });
    y.ticks.forEach((t, i) => { const l = o.yLabels[i]; if (l) drawSupText(ctx, l, a.left - 25, y.getPixelForValue(t.value) + 6.3, 'right', 16, 11, 9.5); });
    ctx.restore();
  }
};

function axisChart(id, o) {
  const grid = {display: true, drawOnChartArea: false, drawTicks: true, tickLength: 12, color: '#000', lineWidth: 1.8};
  return new Chart(document.getElementById(id), {
    type: 'scatter',
    data: {datasets: o.datasets},
    plugins: [rangeFrame, supTickLabels],
    options: {
      responsive: false, animation: false, events: [],
      layout: {autoPadding: false, padding: o.pad},
      plugins: {legend: {display: false}, tooltip: {enabled: false},
        supTickLabels: {xLabels: o.x.labels, yLabels: o.y.labels}},
      scales: {
        x: {type: 'linear', min: o.x.min, max: o.x.max,
          afterBuildTicks: s => { s.ticks = o.x.ticks.map(v => ({value: v})); },
          afterFit: s => { s.height = o.x.h; },
          ticks: {display: false, autoSkip: false},
          grid: grid, border: {display: false},
          title: {display: true, text: o.x.title, color: '#000', font: {size: 21, lineHeight: 1.25}, padding: {top: 0, bottom: o.x.tpb}}},
        y: {type: 'linear', min: o.y.min, max: o.y.max,
          afterBuildTicks: s => { s.ticks = o.y.ticks.map(v => ({value: v})); },
          afterFit: s => { s.width = o.y.w; },
          ticks: {display: false, autoSkip: false},
          grid: grid, border: {display: false},
          title: {display: true, text: 'p-value', color: '#000', font: {size: 21, lineHeight: 1.25}, padding: {top: o.y.tpt, bottom: 0}}}
      }
    }
  });
}

function bandPolygon(upper, lower) {
  return xy(upper.concat(lower.slice().reverse()));
}
const bandStyle = {showLine: true, pointRadius: 0, borderColor: '#6a6a6a', borderWidth: 1.3, backgroundColor: '#f4f4f4', fill: 'shape', order: 10};

// Left QQ
axisChart('qqL', {
  pad: {left: 0, right: 23, top: 15, bottom: 0},
  x: {min: -0.101, max: 3.237, ticks: leftQQXTicks, labels: leftQQXLabels, h: 105.3, title: 'Expected p-value', tpb: 23.9},
  y: {min: -0.183, max: 4.435, ticks: leftQQYTicks, labels: leftQQYLabels, w: 95, tpt: 10.9},
  datasets: [
    Object.assign({data: bandPolygon(leftBandUpper, leftBandLower)}, bandStyle),
    {data: xy([leftQQRed[leftQQRed.length - 1], leftQQBlue[0]]), showLine: true, pointRadius: 0, borderColor: BLUE, borderWidth: 2.5, order: 5},
    {data: xy(leftQQShadow), pointRadius: 5, pointBackgroundColor: 'rgba(255,90,90,0.45)', pointBorderWidth: 0, order: 4},
    {data: xy(leftQQRed), pointRadius: 5, pointBackgroundColor: 'rgba(255,0,0,0.85)', pointBorderWidth: 0, order: 2},
    {data: xy(leftQQBlue), pointRadius: 5.3, pointBackgroundColor: BLUE, pointBorderWidth: 0, order: 1}
  ]
});

// Left distance
axisChart('distL', {
  pad: {left: 0, right: 38, top: 10, bottom: 0},
  x: {min: -19.3, max: 586.4, ticks: leftDistXTicks, labels: leftDistXLabels, h: 105.3, title: ['Distance to', 'mutation (bp)'], tpb: 1.9},
  y: {min: -0.258, max: 6.473, ticks: leftDistYTicks, labels: leftDistYLabels, w: 83.3, tpt: 0.9},
  datasets: [
    {data: xy(leftDistBlue.concat(leftDistBlueLow)), pointRadius: 5.3, pointBackgroundColor: 'rgba(100,149,237,0.5)', pointBorderColor: 'rgba(100,149,237,0.6)', pointBorderWidth: 0.8, clip: false, order: 2},
    {data: xy(leftDistRed), pointRadius: 5.3, pointBackgroundColor: 'rgba(255,0,0,0.5)', pointBorderColor: 'rgba(230,0,0,0.7)', pointBorderWidth: 1, clip: false, order: 1}
  ]
});

// Right QQ
axisChart('qqR', {
  pad: {left: 0, right: 25, top: 15, bottom: 0},
  x: {min: -0.125, max: 2.362, ticks: rightQQXTicks, labels: rightQQXLabels, h: 105.3, title: 'Expected p-value', tpb: 23.9},
  y: {min: -0.409, max: 9.932, ticks: rightQQYTicks, labels: rightQQYLabels, w: 90, tpt: 8.9},
  datasets: [
    Object.assign({data: bandPolygon(rightBandUpper, rightBandLower)}, bandStyle),
    {data: xy(rightQQTop), showLine: true, pointRadius: 0, borderColor: 'rgba(100,149,237,0.55)', borderWidth: 2.5, order: 6},
    {data: xy(rightQQShadowBlue), pointRadius: 5, pointBackgroundColor: 'rgba(100,149,237,0.45)', pointBorderWidth: 0, order: 5},
    {data: xy(rightQQShadowRed), pointRadius: 5, pointBackgroundColor: 'rgba(255,90,90,0.45)', pointBorderWidth: 0, order: 4},
    {data: xy(rightQQBlue), pointRadius: 5, pointBackgroundColor: 'rgba(100,149,237,0.9)', pointBorderWidth: 0, order: 3},
    {data: xy(rightQQRed), pointRadius: 5, pointBackgroundColor: 'rgba(255,0,0,0.9)', pointBorderWidth: 0, order: 2},
    {data: xy(rightQQTop.slice(1)), pointRadius: 5.3, pointBackgroundColor: BLUE, pointBorderWidth: 0, clip: false, order: 1}
  ]
});

// Right distance
axisChart('distR', {
  pad: {left: 0, right: 35, top: 10, bottom: 0},
  x: {min: -116.9, max: 2586.8, ticks: rightDistXTicks, labels: rightDistXLabels, h: 105.3, title: ['Distance to', 'mutation (bp)'], tpb: 1.9},
  y: {min: -0.382, max: 9.593, ticks: rightDistYTicks, labels: rightDistYLabels, w: 85, tpt: 0.9},
  datasets: [
    {data: xy(rightDistBlue), pointRadius: 5.3, pointBackgroundColor: 'rgba(100,149,237,0.5)', pointBorderColor: 'rgba(100,149,237,0.6)', pointBorderWidth: 0.8, clip: false, order: 2},
    {data: xy(rightDistRed), pointRadius: 5.3, pointBackgroundColor: 'rgba(255,0,0,0.5)', pointBorderColor: 'rgba(230,0,0,0.7)', pointBorderWidth: 1, clip: false, order: 1}
  ]
});
</script>
</body></html>
